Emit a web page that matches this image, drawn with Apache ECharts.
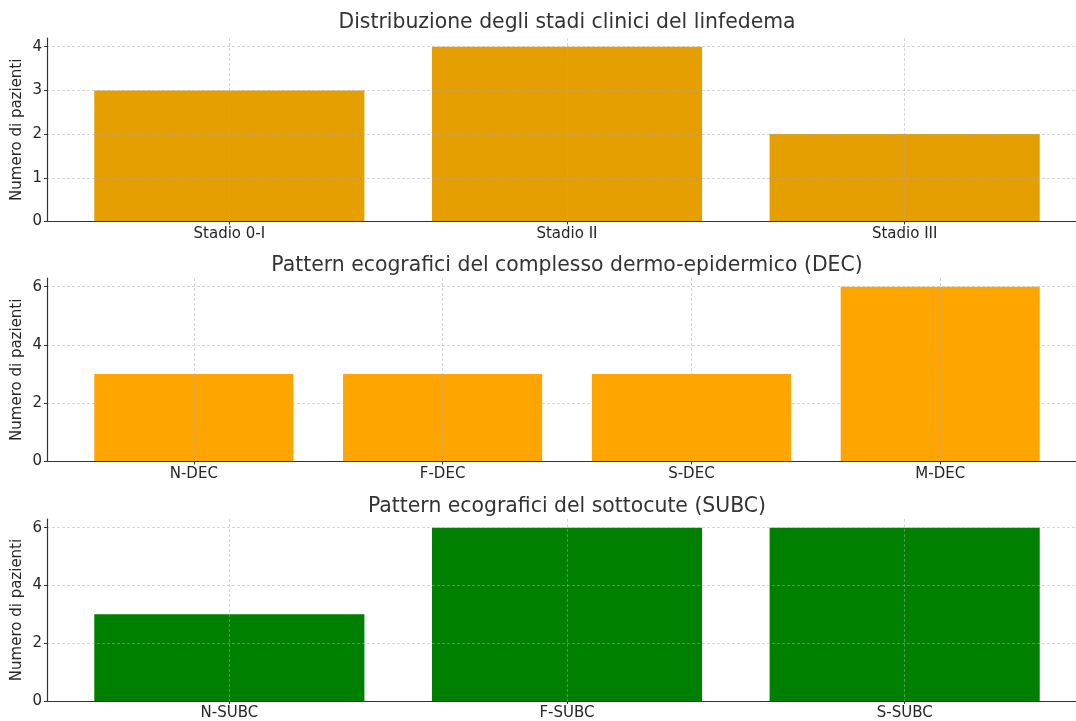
<!DOCTYPE html>
<html>
<head>
<meta charset="utf-8">
<script src="https://cdn.jsdelivr.net/npm/echarts@6/dist/echarts.min.js"></script>
<style>
html,body{margin:0;padding:0;background:#fff;}
#c{width:1076px;height:721px;}
</style>
</head>
<body>
<div id="c"></div>
<script>
// ---- data ----
const titles = [
  'Distribuzione degli stadi clinici del linfedema',
  'Pattern ecografici del complesso dermo-epidermico (DEC)',
  'Pattern ecografici del sottocute (SUBC)'
];
const stadiCategories = ['Stadio 0-I', 'Stadio II', 'Stadio III'];
const stadiValues = [3, 4, 2];
const decCategories = ['N-DEC', 'F-DEC', 'S-DEC', 'M-DEC'];
const decValues = [3, 3, 3, 6];
const subcCategories = ['N-SUBC', 'F-SUBC', 'S-SUBC'];
const subcValues = [3, 6, 6];
const yTicksStadi = [0, 1, 2, 3, 4];
const yTicksDec = [0, 2, 4, 6];
const yTicksSubc = [0, 2, 4, 6];
const yLabel = 'Numero di pazienti';

// ---- layout / style ----
const panels = [
  {cats: stadiCategories, vals: stadiValues, ticks: yTicksStadi, color: '#E69F00', top: 38, titleTop: 8},
  {cats: decCategories, vals: decValues, ticks: yTicksDec, color: '#FFA500', top: 278, titleTop: 251},
  {cats: subcCategories, vals: subcValues, ticks: yTicksSubc, color: '#008000', top: 519, titleTop: 492}
];
const W = 1076;
const gridLeft = 47, fullWidth = 1040, gridHeight = 183.5;
const visibleWidth = W - gridLeft;
const font = 'DejaVu Sans';
const axisColor = '#333';
const gridLineStyle = {color: 'rgba(170,170,170,0.6)', type: [3, 2], width: 0.8};

const option = {
  animation: false,
  backgroundColor: '#fff',
  title: [], grid: [], xAxis: [], yAxis: [], series: []
};

panels.forEach((p, i) => {
  const n = p.cats.length;
  const margin = (n - 0.2) * 0.05;
  const xMin = -0.4 - margin;
  const xMaxFull = n - 0.6 + margin;
  const xMax = xMin + (xMaxFull - xMin) * visibleWidth / fullWidth;
  const idx = p.cats.map((_, k) => k);
  const yMax = p.ticks[p.ticks.length - 1] * 1.05;
  option.title.push({
    text: titles[i], left: gridLeft + fullWidth / 2 - 5, top: p.titleTop, textAlign: 'center',
    textStyle: {fontFamily: font, fontSize: 20.4, fontWeight: 'normal', color: '#333'}
  });
  option.grid.push({left: gridLeft, top: p.top, right: 0, height: gridHeight, containLabel: false});
  option.xAxis.push({
    type: 'value', gridIndex: i, min: xMin, max: xMax, z: 3,
    axisLine: {show: true, onZero: false, lineStyle: {color: axisColor, width: 1.2}},
    axisTick: {show: true, length: 3, customValues: idx, lineStyle: {color: axisColor}},
    axisLabel: {customValues: idx, formatter: v => p.cats[Math.round(v)] || '', fontFamily: font, fontSize: 15, color: '#262626', margin: 5},
    splitLine: {show: true, lineStyle: gridLineStyle}
  });
  option.yAxis.push({
    type: 'value', gridIndex: i, min: 0, max: yMax, z: 3,
    name: yLabel, nameLocation: 'middle', nameGap: 22, nameRotate: 90, nameMoveOverlap: false,
    nameTextStyle: {fontFamily: font, fontSize: 15, color: '#262626'},
    axisLine: {show: true, onZero: false, lineStyle: {color: axisColor, width: 1.2}},
    axisTick: {show: true, length: 3, customValues: p.ticks, lineStyle: {color: axisColor}},
    axisLabel: {customValues: p.ticks, fontFamily: font, fontSize: 15, color: '#262626', margin: 5},
    splitLine: {show: true, lineStyle: gridLineStyle}
  });
  option.series.push({
    type: 'bar', xAxisIndex: i, yAxisIndex: i, barWidth: '80%',
    itemStyle: {color: p.color},
    data: p.vals.map((v, k) => [k, v])
  });
});

const chart = echarts.init(document.getElementById('c'), null, {renderer: 'canvas'});
chart.setOption(option);
</script>
</body>
</html>
